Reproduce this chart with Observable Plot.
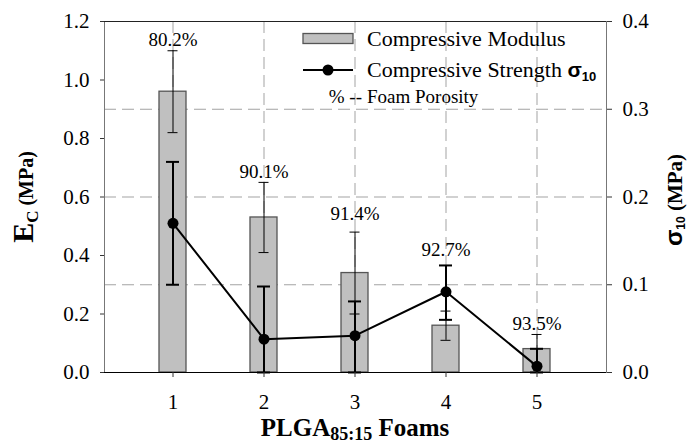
<!DOCTYPE html>
<html><head><meta charset="utf-8">
<script src="https://cdn.jsdelivr.net/npm/d3@7"></script>
<script src="https://cdn.jsdelivr.net/npm/@observablehq/plot@0.6"></script>
<style>
body{margin:0;background:#fff;}
#chart svg{display:block;}
#chart svg text{font-family:"Liberation Serif","Times New Roman",Times,serif;}
#chart svg tspan.sans{font-family:"Liberation Sans",Arial,sans-serif;}
</style></head><body><div id="chart"></div>
<script>
const foams = [1, 2, 3, 4, 5];
const modulus = [0.96, 0.53, 0.34, 0.16, 0.08];
const modulusLow = [0.82, 0.41, 0.20, 0.11, 0.03];
const modulusHigh = [1.10, 0.65, 0.48, 0.21, 0.13];
const strength = [0.170, 0.038, 0.042, 0.092, 0.007];
const strengthLow = [0.100, 0.000, 0.000, 0.060, 0.000];
const strengthHigh = [0.240, 0.098, 0.081, 0.122, 0.027];
const porosity = ["80.2%", "90.1%", "91.4%", "92.7%", "93.5%"];
const porosityLabelY = [1.138, 0.685, 0.543, 0.42, 0.166];
const leftTicks = [0, 0.2, 0.4, 0.6, 0.8, 1.0, 1.2];
const rightTicks = [0, 0.1, 0.2, 0.3, 0.4];
const gridStrength = [0.1, 0.2, 0.3];

const k = 1.2 / 0.4; // right axis (σ10) mapped onto left axis domain
const rows = foams.map((f, i) => ({
  foam: f, mod: modulus[i], modLo: modulusLow[i], modHi: modulusHigh[i],
  str: strength[i] * k, strLo: strengthLow[i] * k, strHi: strengthHigh[i] * k,
  por: porosity[i], porY: porosityLabelY[i]
}));

const chart = Plot.plot({
  width: 687, height: 443,
  marginLeft: 104, marginRight: 81, marginTop: 21, marginBottom: 71,
  style: {fontSize: "21px", background: "white", color: "black", overflow: "visible"},
  x: {type: "band", domain: foams, paddingInner: 0.7, paddingOuter: 0.6, label: null},
  y: {domain: [0, 1.2], label: null},
  marks: [
    Plot.ruleY(gridStrength, {y: d => d * k, stroke: "#a3a3a3", strokeDasharray: "12,6"}),
    Plot.ruleX(foams, {x: d => d, stroke: "#a3a3a3", strokeDasharray: "12,6"}),
    Plot.barY(rows, {x: "foam", y: "mod", fill: "#c0c0c0", stroke: "#555", strokeWidth: 1.3}),
    Plot.ruleX(rows, {x: "foam", y1: "modLo", y2: "modHi", stroke: "black", strokeWidth: 1}),
    Plot.tickY(rows, {x: "foam", y: "modLo", insetLeft: 8.5, insetRight: 8.5, stroke: "black", strokeWidth: 1}),
    Plot.tickY(rows, {x: "foam", y: "modHi", insetLeft: 8.5, insetRight: 8.5, stroke: "black", strokeWidth: 1}),
    Plot.ruleX(rows, {x: "foam", y1: "strLo", y2: "strHi", stroke: "black", strokeWidth: 2}),
    Plot.tickY(rows, {x: "foam", y: "strLo", insetLeft: 7, insetRight: 7, stroke: "black", strokeWidth: 2}),
    Plot.tickY(rows, {x: "foam", y: "strHi", insetLeft: 7, insetRight: 7, stroke: "black", strokeWidth: 2}),
    Plot.line(rows, {x: "foam", y: "str", stroke: "black", strokeWidth: 2}),
    Plot.dot(rows, {x: "foam", y: "str", r: 5.5, fill: "black"}),
    Plot.text(rows, {x: "foam", y: "porY", text: "por", fontSize: 19}),
    Plot.frame({stroke: "#777"}),
    Plot.ruleY([1.2], {stroke: "#222"}),
    Plot.ruleY([0], {stroke: "black"}),
    Plot.axisY({anchor: "left", ticks: leftTicks, tickFormat: d => d.toFixed(1), tickSize: 4, tickPadding: 11, stroke: "#333", label: null}),
    Plot.axisY({anchor: "right", ticks: rightTicks.map(v => v * k), tickFormat: d => (d / k).toFixed(1), tickSize: 5, tickPadding: 11, stroke: "#333", label: null}),
    Plot.axisX({anchor: "bottom", ticks: foams, tickSize: 5, tickPadding: 17, stroke: "#333", label: null})
  ]
});
document.getElementById("chart").appendChild(chart);

const svg = d3.select(chart);
const g = svg.append("g").attr("fill", "black");

// Left axis title
const yt = g.append("text").attr("transform", "translate(33,197) rotate(-90)")
  .attr("text-anchor", "middle").attr("font-weight", "bold");
yt.append("tspan").attr("font-size", 30).text("E");
yt.append("tspan").attr("font-size", 17).attr("dy", 5).text("C");
yt.append("tspan").attr("font-size", 20).attr("dy", -5).text(" (MPa)");

// Right axis title
const rt = g.append("text").attr("transform", "translate(682,200) rotate(-90)")
  .attr("text-anchor", "middle").attr("font-weight", "bold");
rt.append("tspan").attr("class", "sans").attr("font-size", 24).text("σ");
rt.append("tspan").attr("class", "sans").attr("font-size", 12).attr("dy", 3).text("10");
rt.append("tspan").attr("font-size", 21).attr("dy", -3).text(" (MPa)");

// X axis title
const xt = g.append("text").attr("x", 355).attr("y", 436)
  .attr("text-anchor", "middle").attr("font-weight", "bold");
xt.append("tspan").attr("font-size", 25).text("PLGA");
xt.append("tspan").attr("font-size", 18).attr("dy", 4).text("85:15");
xt.append("tspan").attr("font-size", 25).attr("dy", -4).text(" Foams");

// Legend
const lg = svg.append("g").attr("fill", "black").attr("text-anchor", "start");
lg.append("rect").attr("x", 303).attr("y", 33.5).attr("width", 50).attr("height", 10)
  .attr("fill", "#c0c0c0").attr("stroke", "#555").attr("stroke-width", 1.3);
lg.append("text").attr("x", 367).attr("y", 46).attr("font-size", 22).text("Compressive Modulus");
lg.append("line").attr("x1", 303).attr("x2", 353).attr("y1", 70).attr("y2", 70)
  .attr("stroke", "black").attr("stroke-width", 2);
lg.append("circle").attr("cx", 328).attr("cy", 70).attr("r", 5.5).attr("fill", "black");
const ls = lg.append("text").attr("x", 367).attr("y", 77).attr("font-size", 22);
ls.append("tspan").text("Compressive Strength ");
ls.append("tspan").attr("class", "sans").attr("font-weight", "bold").attr("font-size", 21).text("σ");
ls.append("tspan").attr("class", "sans").attr("font-weight", "bold").attr("font-size", 13).attr("dy", 4).text("10");
lg.append("text").attr("x", 362).attr("y", 103).attr("font-size", 19).attr("text-anchor", "end").text("% --");
lg.append("text").attr("x", 367).attr("y", 103).attr("font-size", 19).text("Foam Porosity");
</script>
</body></html>
